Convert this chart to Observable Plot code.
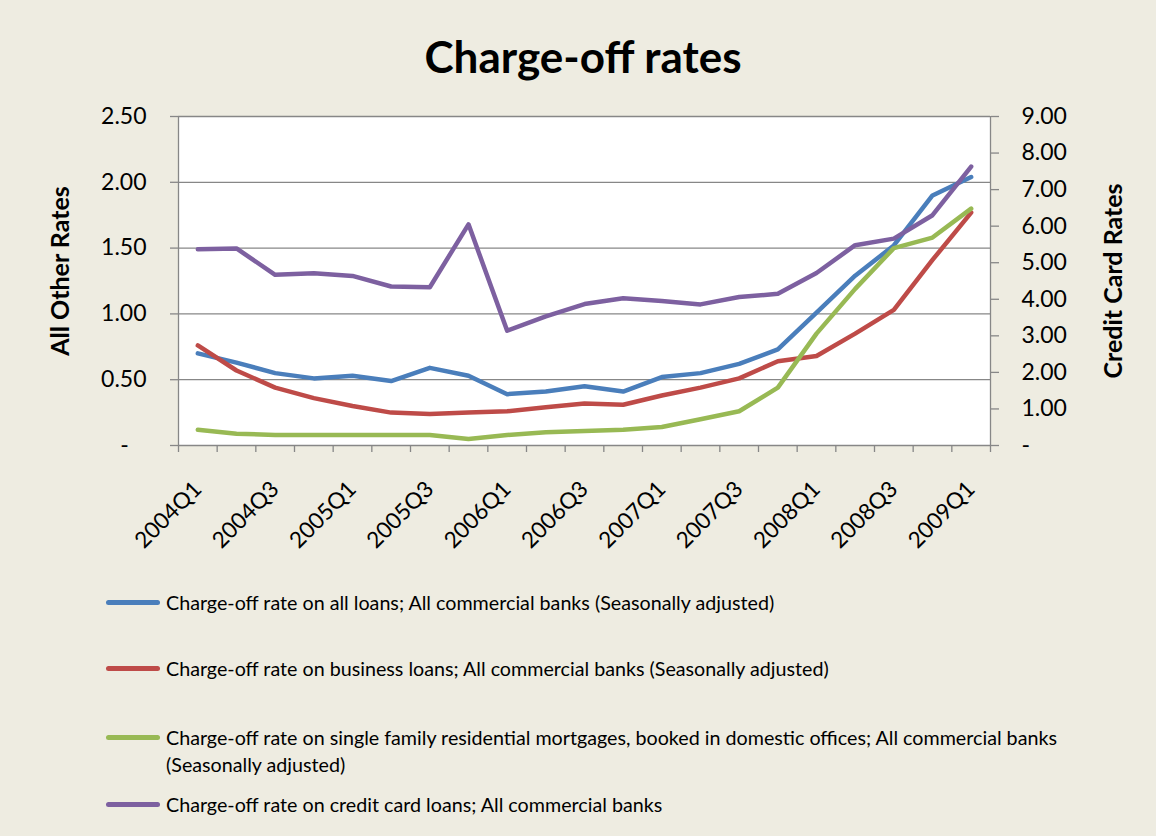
<!DOCTYPE html>
<html>
<head>
<meta charset="utf-8">
<script src="https://cdn.jsdelivr.net/npm/d3@7"></script>
<script src="https://cdn.jsdelivr.net/npm/@observablehq/plot@0.6"></script>
<style>
  html, body { margin: 0; padding: 0; background: #EEECE1; }
  #wrap { position: relative; width: 1156px; height: 836px; background: #EEECE1; font-family: Lato, "Open Sans", sans-serif; color: #000; overflow: hidden; }
  #title { position: absolute; left: 5px; width: 1156px; top: 31px; text-align: center; font-weight: bold; font-size: 44px; line-height: 50px; }
  #chart { position: absolute; left: 0; top: 90px; }
  .ytitle { position: absolute; font-weight: bold; font-size: 25px; white-space: nowrap; transform: translate(-50%, -50%) rotate(-90deg); }
  .leg { position: absolute; left: 106px; display: flex; align-items: flex-start; font-size: 19.7px; line-height: 27px; }
  .leg .sw { width: 54px; height: 4.5px; border-radius: 3px; margin-top: 11.25px; margin-right: 6px; flex: none; }
</style>
</head>
<body>
<div id="wrap">
  <div id="title">Charge-off rates</div>
  <div id="chart"></div>
  <div class="ytitle" style="left:59px; top:271px;">All Other Rates</div>
  <div class="ytitle" style="left:1112px; top:281px;">Credit Card Rates</div>
  <div id="legend"></div>
</div>
<script>
const quarters = ["2004Q1","2004Q2","2004Q3","2004Q4","2005Q1","2005Q2","2005Q3","2005Q4",
  "2006Q1","2006Q2","2006Q3","2006Q4","2007Q1","2007Q2","2007Q3","2007Q4",
  "2008Q1","2008Q2","2008Q3","2008Q4","2009Q1"];
const allLoans   = [0.70,0.63,0.55,0.51,0.53,0.49,0.59,0.53,0.39,0.41,0.45,0.41,0.52,0.55,0.62,0.73,1.01,1.29,1.52,1.90,2.04];
const business   = [0.76,0.57,0.44,0.36,0.30,0.25,0.24,0.25,0.26,0.29,0.32,0.31,0.38,0.44,0.51,0.64,0.68,0.85,1.03,1.41,1.77];
const mortgages  = [0.12,0.09,0.08,0.08,0.08,0.08,0.08,0.05,0.08,0.10,0.11,0.12,0.14,0.20,0.26,0.44,0.85,1.19,1.50,1.58,1.80];
const creditCard = [5.37,5.39,4.67,4.71,4.64,4.35,4.33,6.05,3.14,3.53,3.87,4.03,3.95,3.86,4.06,4.15,4.72,5.48,5.66,6.30,7.63];

const leftTicks = [0, 0.5, 1.0, 1.5, 2.0, 2.5];
const rightTicks = [0,1,2,3,4,5,6,7,8,9];
const leftMax = 2.5, rightMax = 9;

const seriesNames = [
  "Charge-off rate on all loans; All commercial banks (Seasonally adjusted)",
  "Charge-off rate on business loans; All commercial banks (Seasonally adjusted)",
  "Charge-off rate on single family residential mortgages, booked in domestic offices; All commercial banks<br>(Seasonally adjusted)",
  "Charge-off rate on credit card loans; All commercial banks"
];
const seriesColors = ["#4A7EBB", "#BE4B48", "#98B954", "#7D60A0"];

const toLeft = v => v * leftMax / rightMax;
const rows = [];
[allLoans, business, mortgages].forEach((arr, s) => arr.forEach((v, i) => rows.push({s, i, v})));
creditCard.forEach((v, i) => rows.push({s: 3, i, v: toLeft(v)}));

const gray = "#878787";
const boundaries = d3.range(-0.5, quarters.length, 1);
const labelIdx = d3.range(0, quarters.length, 2);

const chart = Plot.plot({
  width: 1156,
  height: 470,
  marginTop: 26,
  marginBottom: 115,
  marginLeft: 178,
  marginRight: 166,
  style: {background: "transparent", fontFamily: "Lato, 'Open Sans', sans-serif", color: "#000"},
  x: {type: "linear", domain: [-0.5, quarters.length - 0.5]},
  y: {domain: [0, leftMax]},
  marks: [
    Plot.frame({fill: "white", stroke: "none"}),
    Plot.ruleY(leftTicks, {stroke: gray, strokeWidth: 1.3}),
    Plot.ruleX([-0.5, quarters.length - 0.5], {stroke: gray, strokeWidth: 1.3}),
    Plot.axisY(leftTicks, {anchor: "left", tickSize: 8, tickPadding: 24, stroke: gray, strokeWidth: 1.3, fontSize: 23,
      tickFormat: d => d === 0 ? "-\u00a0\u00a0\u00a0" : d.toFixed(2), label: null}),
    Plot.axisY(rightTicks.map(toLeft), {anchor: "right", tickSize: 8, tickPadding: 23, stroke: gray, strokeWidth: 1.3, fontSize: 23,
      tickFormat: d => { const k = Math.round(d * rightMax / leftMax); return k === 0 ? "-" : k.toFixed(2); }, label: null}),
    Plot.axisX(boundaries, {anchor: "bottom", tickSize: 7, stroke: gray, strokeWidth: 1.3, tickFormat: () => "", label: null}),
    Plot.axisX(labelIdx, {anchor: "bottom", tickSize: 0, tickPadding: 40, tickRotate: -45, fontSize: 22.5,
      tickFormat: i => quarters[i], label: null}),
    Plot.line(rows, {x: "i", y: "v", z: "s", stroke: d => seriesColors[d.s], strokeWidth: 4.5, strokeLinejoin: "round", strokeLinecap: "round"})
  ]
});
document.getElementById("chart").appendChild(chart);

const legendTops = [589, 655, 724, 791];
const legend = document.getElementById("legend");
seriesNames.forEach((name, k) => {
  const d = document.createElement("div");
  d.className = "leg";
  d.style.top = legendTops[k] + "px";
  d.innerHTML = `<div class="sw" style="background:${seriesColors[k]}"></div><div>${name}</div>`;
  legend.appendChild(d);
});
</script>
</body>
</html>
